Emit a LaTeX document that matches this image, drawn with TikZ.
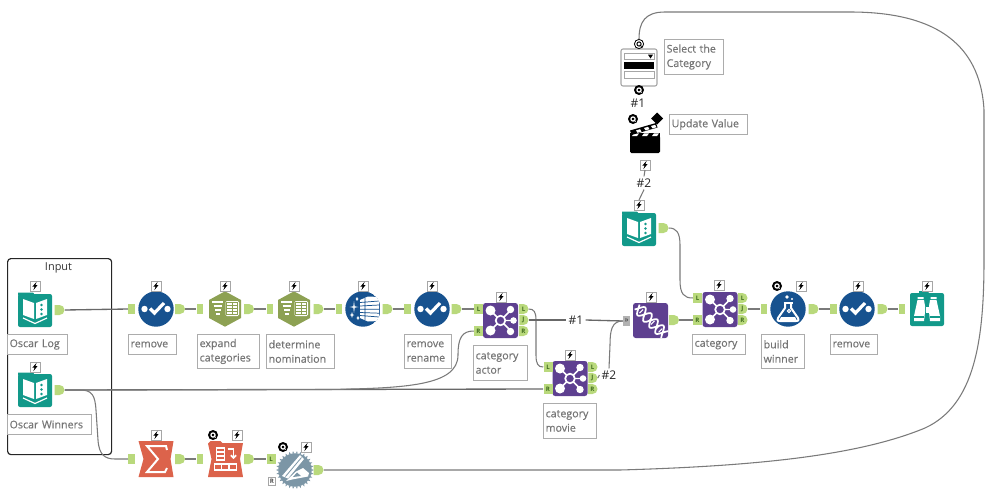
\documentclass[tikz,border=0pt]{standalone}
\usepackage{fontspec}
\setmainfont{Open Sans}
\newfontfamily\lblfont{Open Sans}[FakeBold=0.35]
\usetikzlibrary{shapes.misc,arrows.meta}
\def\u{0.75pt}
\definecolor{portg}{HTML}{B9D97C}
\definecolor{tealc}{HTML}{12998A}
\definecolor{bluec}{HTML}{17528F}
\definecolor{olivec}{HTML}{8DA153}
\definecolor{purplec}{HTML}{5E4090}
\definecolor{redc}{HTML}{DC634B}
\definecolor{gearc}{HTML}{7C96A6}
\definecolor{linec}{HTML}{7A7A7A}
\definecolor{labc}{HTML}{757575}
\definecolor{darkg}{HTML}{3F6B1E}
\tikzset{
  outp/.style={rounded rectangle,rounded rectangle left arc=none,fill=portg,minimum width=7*\u,minimum height=10*\u,inner sep=0pt},
  inp/.style={rectangle,fill=portg,minimum width=6.5*\u,minimum height=10*\u,inner sep=0pt},
  lout/.style={outp,minimum width=9*\u,font=\fontsize{4.6}{5}\selectfont\bfseries,text=darkg},
  lin/.style={inp,minimum width=9*\u,font=\fontsize{4.6}{5}\selectfont\bfseries,text=darkg},
  rwhite/.style={rectangle,draw=gray!70,line width=.4pt,fill=white,minimum width=7*\u,minimum height=8*\u,inner sep=0pt,font=\fontsize{4.6}{5}\selectfont\bfseries,text=black!70},
  multi/.style={rectangle,fill=gray!60,minimum width=7*\u,minimum height=10*\u,inner sep=0pt,font=\fontsize{6}{6}\selectfont,text=black!80},
  conn/.style={draw=linec,line width=.8pt},
  thick conn/.style={draw=linec!85!black,line width=1pt},
  lbl/.style={draw=gray!65,line width=.75pt,fill=white,anchor=north west,inner xsep=1.6pt,inner ysep=0pt,align=left,font=\lblfont\fontsize{8}{10.8}\selectfont,text=labc},
  hash/.style={font=\fontsize{9}{10}\selectfont,text=black!85,inner sep=1.5pt},
  tool/.style={minimum size=35*\u,inner sep=0pt},
  bolt/.pic={\draw[gray!70,fill=white,line width=.5pt](-5,-5) rectangle (5,5);
    \fill[black](1.6,-4.2)--(-2.6,.6)--(-.4,.6)--(-1.6,4.2)--(2.6,-1)--(.4,-1)--cycle;},
  qbadge/.pic={\fill[black](0,0) circle (5);\draw[white,line width=.9pt](0,0) circle (2.1);\draw[white,line width=.7pt](.8,.8)--(2.6,2.6);},
  qopen/.pic={\draw[black,fill=white,line width=.6pt](0,0) circle (4.6);\draw[black,line width=.7pt](0,0) circle (2.1);\draw[black,line width=.6pt](.8,.8)--(2.6,2.6);},
  bookicon/.pic={\fill[tealc,rounded corners=1.5pt](-17,-16) rectangle (17,17);
    \fill[tealc](-17,-17.5)--(-2,-17.5)--(0,-15)--(-17,-15)--cycle;
    \fill[white](-12,-11)--(-1,-7)--(-1,9)--(-12,5)--cycle;
    \fill[white](12,-11)--(1,-7)--(1,9)--(12,5)--cycle;
    \foreach \yy in {-5,-.5,4}{\fill[tealc](6.5,\yy) circle (1.4);}
    \draw[white,line width=.9pt](-12,8)--(0,13.5)--(12,8);},
  checkicon/.pic={\fill[bluec](0,0) circle (17.7);
    \fill[white](-11.5,0) circle (3.2) (11.5,0) circle (3.2);
    \draw[white,line width=2.4pt](-6,-.5)--(-1.5,4)--(8,-6);},
  hexicon/.pic={\fill[olivec](0,-17.7)--(16,-9)--(16,9)--(0,17.7)--(-16,9)--(-16,-9)--cycle;
    \fill[white,rounded corners=1pt](0.5,-8) rectangle (14,7);
    \draw[olivec,line width=.7pt](1.8,-6.7) rectangle (12.7,5.7) (1.8,-3.6)--(12.7,-3.6) (1.8,-.5)--(12.7,-.5) (1.8,2.6)--(12.7,2.6) (7,-6.7)--(7,5.7);
    \draw[white,line width=1.4pt](-13,-7)--(-2,-7) (-11.5,-3)--(-3,-3) (-10,1)--(-4.5,1) (-9,5)--(-5.5,5);},
  joinicon/.pic={\fill[purplec,rounded corners=2pt](-17.5,-17.5) rectangle (17.5,17.5);
    \draw[white,line width=1.1pt](0,0)--(-10,-10) (0,0)--(-10,10) (0,0)--(10,-10) (0,0)--(10,10) (0,0)--(12,0);
    \fill[white](-10,-10) circle (5) (-10,10) circle (5) (10,-11) circle (3.7) (10,11) circle (3.7) (13,0) circle (3.3);
    \draw[white,fill=purplec,line width=1.3pt](0,0) circle (4.8);},
  dnaicon/.pic={\fill[purplec,rounded corners=2pt](-17.5,-17.5) rectangle (17.5,17.5);
    \begin{scope}[rotate=-45]
      \draw[white,line width=1.3pt] plot[domain=-19:20,samples=50] (\x,{5.5*sin(\x*21)});
      \draw[white,line width=1.3pt] plot[domain=-19:20,samples=50] (\x,{-5.5*sin(\x*21)});
      \foreach \xx in {-13,-9,-1,3,10,14}{\draw[white,line width=.8pt](\xx,-2.5)--(\xx,2.5);}
    \end{scope}},
  formicon/.pic={\begin{scope}
      \clip (0,0) circle (17.7);
      \fill[bluec](0,0) circle (17.7);
      \fill[white](-3,-9)--(5,-12.5)--(16,-12)--(16,12)--(5,12.5)--(-3,9)--cycle;
      \draw[bluec,line width=.55pt](-3,-6.5)--(16,-8) (-3,-3)--(16,-4) (-3,.2)--(16,.2) (-3,3.5)--(16,4.2) (-3,6.5)--(16,8) (2,-11)--(2,11);
    \end{scope}
    \foreach \xx/\yy/\ss in {-9/-2/6,-11/6/3,-5/9/2.2,-6/-10/2}{\fill[white](\xx,\yy-\ss)--(\xx+.7,\yy-.7)--(\xx+\ss*.75,\yy)--(\xx+.7,\yy+.7)--(\xx,\yy+\ss)--(\xx-.7,\yy+.7)--(\xx-\ss*.75,\yy)--(\xx-.7,\yy-.7)--cycle;}},
  flaskicon/.pic={\fill[bluec](0,0) circle (17.7);
    \draw[white,line width=1.5pt,line join=round](-3,-6)--(-3,-1)--(-10,9) .. controls (-11,12) and (-10,12) .. (-8,12)--(8,12) .. controls (10,12) and (11,12) .. (10,9)--(3,-1)--(3,-6);
    \draw[white,line width=1.5pt](-4.5,-6.5)--(4.5,-6.5);
    \fill[white](-7,8)--(7,8)--(9,12)--(-9,12)--cycle;
    \fill[white](-1,-12) circle (1.8) (4,-10) circle (1.2);
    \draw[white,line width=.8pt](1,2) circle (1.6);},
  binoicon/.pic={\fill[tealc,rounded corners=1.5pt](-17,-16) rectangle (17,17);
    \fill[tealc](-8,-18)--(0,-18)--(3,-15)--(-8,-15)--cycle;
    \fill[white](-9.5,-9)--(-3,-9)--(-2,-3)--(-2,3)--(-3,12)--(-13,12)--(-13,7)--cycle;
    \fill[white](9.5,-9)--(3,-9)--(2,-3)--(2,3)--(3,12)--(13,12)--(13,7)--cycle;
    \fill[white](-9.5,-12) rectangle (-3.5,-10) (3.5,-12) rectangle (9.5,-10);
    \fill[white](-1.5,-2) rectangle (1.5,4);
    \draw[tealc,line width=.8pt](-13,8)--(-3,8) (3,8)--(13,8);},
  sumicon/.pic={\fill[redc](-17.5,-18)--(17.5,-18)--(14.5,0)--(17.5,18)--(-17.5,18)--(-12.5,0)--cycle;
    \draw[white,line width=1.5pt,line join=miter](11,-9)--(10,-13)--(-9,-13)--(2,0)--(-9,13)--(9,13)--(11,9);},
  crossicon/.pic={\fill[redc](-17.5,-15.5)--(-15,-18)--(-5,-18)--(-3,-16)--(17.5,-16)--(14.5,0)--(17.5,18)--(-17.5,18)--(-14,0)--cycle;
    \draw[white,line width=1.1pt](-9,-11) rectangle (-1,1) (-9,-7)--(-1,-7) (-9,-3)--(-1,-3);
    \draw[white,line width=1.2pt,-{Straight Barb[length=2pt]}](2,-10)--(8,-10)--(8,0);
    \draw[white,line width=1.1pt](-11,5) rectangle (11,11) (-4,5)--(-4,11) (3.5,5)--(3.5,11);},
  gearicon/.pic={\foreach \a in {0,12,...,348}{\fill[gearc](\a-3.5:16.5)--(\a:19)--(\a+3.5:16.5)--cycle;}
    \fill[gearc](0,0) circle (16.7);
    \fill[white](-13,6)--(5,-15)--(9,-11)--(-7,8.5)--cycle;
    \draw[gearc,line width=.6pt](-9.5,6.5)--(6.5,-12.5);
    \fill[white](-9,11)--(1,1.5)--(8,-2)--(14,3)--(13,6.5)--(-3,9.5)--cycle;
    \fill[gearc](-2,7)--(2,2.5)--(6,6)--cycle;},
  ctlicon/.pic={\draw[gray!70,fill=white,line width=.8pt,rounded corners=1.5pt](-18,-18.5) rectangle (18,18.5);
    \draw[gray!70,line width=.5pt](-15,-14.5) rectangle (15,-8);
    \fill[black](9,-12.8)--(14,-12.8)--(11.5,-9)--cycle;
    \fill[black](-15,-6) rectangle (15,1);
    \draw[gray!70,line width=.5pt](-15,3.5) rectangle (15,10.5);},
  clapicon/.pic={\fill[black,rounded corners=1pt](-15,-1) rectangle (15,16);
    \fill[black](-15,-4)--(15,-4)--(15,-.5)--(-15,-.5)--cycle;
    \foreach \xx in {-11,-1,9}{\fill[white](\xx,-3.6)--(\xx+5,-3.6)--(\xx+3,-1)--(\xx-2,-1)--cycle;}
    \fill[black](-15,-6.5)--(11,-14)--(12.5,-9.5)--(-13.5,-2)--cycle;
    \foreach \xx/\yy in {-9/-6.6,-1/-9,6/-11}{\fill[white](\xx,\yy)--(\xx+4,\yy-1.2)--(\xx+5.5,\yy+1.2)--(\xx+1.5,\yy+2.4)--cycle;}},
}
\newcommand{\toolat}[4]{\node[tool] (#1) at (#2,#3) {}; \pic at (#1) {#4};}
\newcommand{\boxlabel}[6]{\node[lbl,text width=#4*\u-3.2pt,minimum height=#5*\u] (#1) at (#2,#3) {#6};}
\begin{document}
\begin{tikzpicture}[x=0.75pt,y=-0.75pt,line cap=butt]
\useasboundingbox (0,0) rectangle (999,489);
% Input container
\node[draw=black!85,line width=.9pt,rounded corners=2.5pt,minimum width=104*\u,minimum height=196*\u,anchor=north west,inner sep=0pt] (inputbox) at (7,258) {};
\node[font=\fontsize{8.2}{10}\selectfont,text=black!80,inner sep=0pt] (inputtitle) at (58.5,268) {Input};
% labels
\boxlabel{lLog}{7}{334}{60}{20}{Oscar Log}
\boxlabel{lWin}{7}{414}{84}{20}{Oscar Winners}
\boxlabel{lRem}{128}{334}{48}{20}{remove}
\boxlabel{lExp}{197}{334}{62}{34}{expand\\categories}
\boxlabel{lDet}{266}{334}{68}{34}{determine\\nomination}
\boxlabel{lRen}{404}{334}{47}{34}{remove\\rename}
\boxlabel{lAct}{473}{345}{54}{35}{category\\actor}
\boxlabel{lMov}{543}{403}{53}{35}{category\\movie}
\boxlabel{lCat}{692}{334}{53}{20}{category}
\boxlabel{lBui}{761}{334}{43}{34}{build\\winner}
\boxlabel{lRe2}{830}{334}{47}{20}{remove}
\boxlabel{lSel}{664}{39}{59}{35}{Select the\\Category}
\boxlabel{lUpd}{669}{114}{78}{20}{Update Value}
% tools
\toolat{tLog}{35}{310}{bookicon}
\toolat{tWin}{35}{390}{bookicon}
\toolat{tRem}{156}{309}{checkicon}
\toolat{tExp}{225}{309}{hexicon}
\toolat{tDet}{294}{309}{hexicon}
\toolat{tFor}{363}{309}{formicon}
\toolat{tRen}{432}{309}{checkicon}
\toolat{tAct}{500.5}{320.5}{joinicon}
\toolat{tMov}{570}{378.5}{joinicon}
\toolat{tDna}{650.5}{320.5}{dnaicon}
\toolat{tCat}{720}{309.5}{joinicon}
\toolat{tBui}{788}{309}{flaskicon}
\toolat{tRe2}{857}{309}{checkicon}
\toolat{tBro}{927}{309}{binoicon}
\toolat{tSum}{156}{459}{sumicon}
\toolat{tCro}{225.5}{459}{crossicon}
\toolat{tGear}{295}{470}{gearicon}
\toolat{tCtl}{639}{67.5}{ctlicon}
\toolat{tClap}{645}{137}{clapicon}
\toolat{tIn2}{639}{229}{bookicon}
% badges
\foreach \xx/\yy in {35/286,35/367,156/286,225/286,294/286,363/286,432/286,501/297,570/355,651/297,719/285,801/286,858/286,927/286,156/435,237/435,306/447,645/165,639/205}{\pic at (\xx,\yy) {bolt};}
\foreach \xx/\yy in {213/435,283/447,777/286,639/90,633/119}{\pic at (\xx,\yy) {qbadge};}
\node[minimum size=9*\u,inner sep=0pt] (qtop) at (639,44) {}; \pic at (qtop) {qopen};
\fill[black](657,112.5)--(663,118.5)--(657,124.5)--(651,118.5)--cycle;
% ports
\node[outp] (oLog) at (59.5,310) {};
\node[outp] (oWin) at (59.5,390) {};
\node[inp] (iRem) at (131.5,309) {};
\node[outp] (oRem) at (180,309) {};
\node[inp] (iExp) at (200,309) {};
\node[outp] (oExp) at (249,309) {};
\node[inp] (iDet) at (270,309) {};
\node[outp] (oDet) at (318.5,309) {};
\node[inp] (iFor) at (339,309) {};
\node[outp] (oFor) at (387.5,309) {};
\node[inp] (iRen) at (407.5,309) {};
\node[outp] (oRen) at (456.5,309) {};
\node[lin] (aL) at (478.5,309) {L};
\node[lin] (aR) at (478.5,331) {R};
\node[lout] (aoL) at (523.5,309) {L};
\node[lout] (aoJ) at (523.5,320) {J};
\node[lout] (aoR) at (523.5,331) {R};
\node[lin] (mL) at (548,367) {L};
\node[lin] (mR) at (548,389) {R};
\node[lout] (moL) at (592.5,367) {L};
\node[lout] (moJ) at (592.5,378) {J};
\node[lout] (moR) at (592.5,389) {R};
\node[multi] (dIn) at (626.5,321) {»};
\node[outp] (dOut) at (674,320) {};
\node[lin] (cL) at (697.5,298) {L};
\node[lin] (cR) at (697.5,320) {R};
\node[lout] (coL) at (742.5,298) {L};
\node[lout] (coJ) at (742.5,309) {J};
\node[lout] (coR) at (742.5,320) {R};
\node[inp] (iBui) at (764,309) {};
\node[outp] (oBui) at (813.5,309) {};
\node[inp] (iRe2) at (833.5,309) {};
\node[outp] (oRe2) at (882.5,309) {};
\node[inp] (iBro) at (902,309) {};
\node[inp] (iSum) at (131.5,459) {};
\node[outp] (oSum) at (180,459) {};
\node[inp] (iCro) at (200,459) {};
\node[outp] (oCro) at (249,459) {};
\node[lin] (gL) at (271,459) {L};
\node[rwhite] (gR) at (272,481) {R};
\node[outp] (oGear) at (318.5,470) {};
\node[outp] (oIn2) at (663.5,228) {};
% hash labels
\node[hash] (h1) at (576,320) {\#1};
\node[hash] (h2) at (609,375) {\#2};
\node[hash] (h3) at (638,103) {\#1};
\node[hash] (h4) at (644,183) {\#2};
% connectors
\draw[thick conn] (oLog.east) -- (iRem.west);
\draw[conn] (oRem.east) -- (iExp.west);
\draw[conn] (oExp.east) -- (iDet.west);
\draw[conn] (oDet.east) -- (iFor.west);
\draw[conn] (oFor.east) -- (iRen.west);
\draw[conn] (oRen.east) -- (aL.west);
\draw[thick conn] (oWin.east) -- (mR.west);
\draw[conn] (oWin.east) -- (330,389.5) .. controls (405,388) and (458,386) .. (458,355) .. controls (458,338) and (462,331) .. (aR.west);
\draw[conn] (oWin.east) -- (80,390) .. controls (92,390) and (95,395) .. (96,410) -- (98,440) .. controls (99,455) and (105,459) .. (115,459) -- (iSum.west);
\draw[conn] (oSum.east) -- (iCro.west);
\draw[conn] (oCro.east) -- (gL.west);
\draw[conn] (aoL.east) .. controls (534,309) and (536,312) .. (536,320) -- (536,355) .. controls (536,364) and (538,367) .. (mL.west);
\draw[thick conn] (aoJ.east) -- (h1.west);
\draw[thick conn] (h1.east) -- (dIn.west);
\draw[conn] (moJ.east) -- (h2.west);
\draw[conn] (h2.north) -- (610,345) .. controls (610,330) and (612,321) .. (dIn.west);
\draw[conn] (dOut.east) -- (cR.west);
\draw[conn] (oIn2.east) .. controls (676,228) and (680,232) .. (680,245) -- (680,280) .. controls (680,294) and (684,298) .. (cL.west);
\draw[conn] (coJ.east) -- (iBui.west);
\draw[conn] (oBui.east) -- (iRe2.west);
\draw[conn] (oRe2.east) -- (iBro.west);
\draw[conn] (h4.north) -- (645,170);
\draw[conn] (h4.south) -- (639,200);
\draw[conn] (oGear.east) -- (620,470) .. controls (760,466) and (860,455) .. (925,428) .. controls (975,405) and (984,340) .. (984,260) -- (984,110) .. controls (980,40) and (930,12) .. (850,12) -- (665,12) .. controls (645,12) and (639,22) .. (qtop.north);
\end{tikzpicture}
\end{document}
